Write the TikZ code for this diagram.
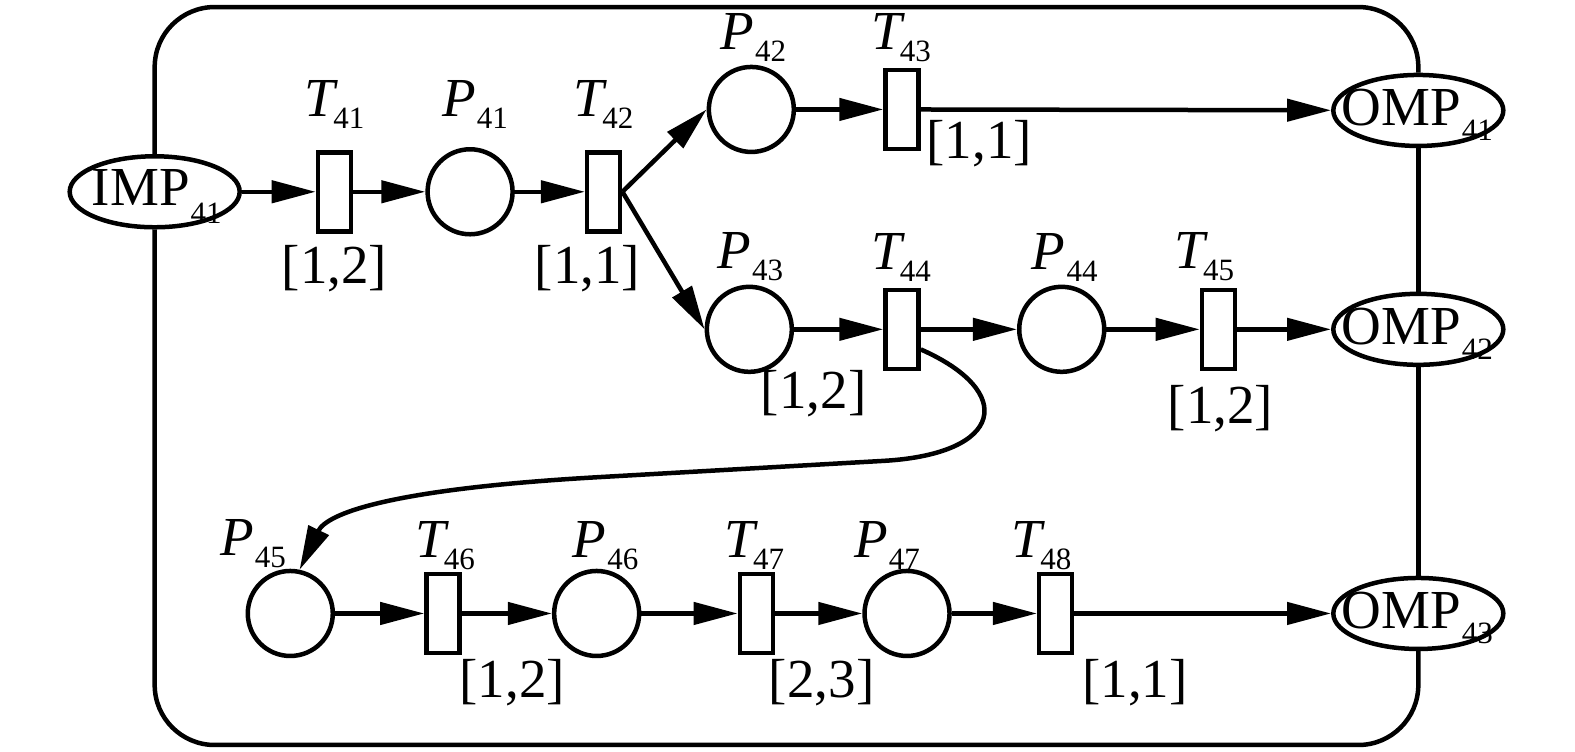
\documentclass[tikz,border=0pt]{standalone}
\usepackage{fontspec}
\setmainfont{Liberation Serif}
\usetikzlibrary{arrows.meta,shapes.geometric,calc}
\newcommand\sublab[4]{#1\kern#4pt\raisebox{-#3pt}{\fontsize{31}{31}\selectfont #2}}
\newcommand\tlab[1]{\sublab{{\itshape T}}{#1}{12}{-2}}
\newcommand\plab[1]{\sublab{{\itshape P}}{#1}{12}{1}}
\begin{document}
\begin{tikzpicture}[x=1.00446pt,y=-1.00401pt,line width=4.5pt,
  place/.style={circle,draw,minimum size=85pt,inner sep=0pt},
  trans/.style={rectangle,draw,minimum width=33pt,minimum height=79pt,inner sep=0pt},
  port/.style={ellipse,draw,minimum width=170pt,minimum height=71pt,inner sep=0pt},
  ptext/.style={inner sep=0pt,font=\fontsize{55}{55}\selectfont},
  lbl/.style={inner sep=0pt,font=\fontsize{55}{55}\selectfont},
  arr/.style={-{Triangle[length=44pt,width=22pt]}}]
\useasboundingbox (0,0) rectangle (1568,748);
% ports
\node[port] (IMP41) at (154,191) {};
\node[port] (OMP41) at (1412,110) {};
\node[port] (OMP42) at (1412,328) {};
\node[port] (OMP43) at (1412,611) {};
\node[ptext] (tIMP41) at (156,196) {\sublab{IMP}{41}{18}{1}};
\node[ptext] (tOMP41) at (1411,114) {\sublab{OMP}{41}{15}{1}};
\node[ptext] (tOMP42) at (1411,332) {\sublab{OMP}{42}{15}{1}};
\node[ptext] (tOMP43) at (1411,615) {\sublab{OMP}{43}{15}{1}};
% places
\node[place] (P41) at (468,191) {};
\node[place] (P42) at (748,109) {};
\node[place] (P43) at (746,328) {};
\node[place] (P44) at (1057,328) {};
\node[place] (P45) at (289,611) {};
\node[place] (P46) at (594,611) {};
\node[place] (P47) at (903,611) {};
% transitions
\node[trans] (T41) at (333,191) {};
\node[trans] (T42) at (601,191) {};
\node[trans] (T43) at (898,109) {};
\node[trans] (T44) at (898,328) {};
\node[trans] (T45) at (1213,328) {};
\node[trans] (T46) at (441,611) {};
\node[trans] (T47) at (753,611) {};
\node[trans] (T48) at (1051,611) {};
% name labels
\node[lbl] (lT41) at (333,104) {\tlab{41}};
\node[lbl] (lP41) at (473,104) {\plab{41}};
\node[lbl] (lT42) at (601,104) {\tlab{42}};
\node[lbl] (lP42) at (750,37) {\plab{42}};
\node[lbl] (lT43) at (897,37) {\tlab{43}};
\node[lbl] (lP43) at (747,256) {\plab{43}};
\node[lbl] (lT44) at (897,256) {\tlab{44}};
\node[lbl] (lP44) at (1060,256) {\plab{44}};
\node[lbl] (lT45) at (1199,256) {\tlab{45}};
\node[lbl] (lP45) at (252,541) {\plab{45}};
\node[lbl] (lT46) at (443,543) {\tlab{46}};
\node[lbl] (lP46) at (603,543) {\plab{46}};
\node[lbl] (lT47) at (751,543) {\tlab{47}};
\node[lbl] (lP47) at (883,543) {\plab{47}};
\node[lbl] (lT48) at (1037,543) {\tlab{48}};
% interval labels
\node[lbl] (i41) at (333,268) {[1,2]};
\node[lbl] (i42) at (585,268) {[1,1]};
\node[lbl] (i43) at (975,143) {[1,1]};
\node[lbl] (i44) at (810,392) {[1,2]};
\node[lbl] (i45) at (1215,407) {[1,2]};
\node[lbl] (i46) at (510,680) {[1,2]};
\node[lbl] (i47) at (818,680) {[2,3]};
\node[lbl] (i48) at (1130,680) {[1,1]};
% frame
\draw[rounded corners=60pt] (IMP41.north) -- (IMP41.north |- 0,7) -- (OMP41.north |- 0,7) -- (OMP41.north);
\draw[rounded corners=60pt] (IMP41.south) -- (IMP41.south |- 0,742) -- (OMP43.south |- 0,742) -- (OMP43.south);
\draw (OMP41) -- (OMP42);
\draw (OMP42) -- (OMP43);
% arcs
\draw[arr] (IMP41) -- (T41);
\draw[arr] (T41) -- (P41);
\draw[arr] (P41) -- (T42);
\draw[arr] (T42.east) -- (P42.west);
\draw[arr] (T42.east) -- (P43.west);
\draw[arr] (P42) -- (T43);
\draw[arr] (T43) -- (OMP41);
\draw[arr] (P43) -- (T44);
\draw[arr] (T44) -- (P44);
\draw[arr] (P44) -- (T45);
\draw[arr] (T45) -- (OMP42);
\draw[arr] ($(T44.east)+(0,20)$) .. controls (1012,390) and (1000,452) .. (880,459) -- (600,475) .. controls (385,487) and (325,512) .. (P45.78);
\draw[arr] (P45) -- (T46);
\draw[arr] (T46) -- (P46);
\draw[arr] (P46) -- (T47);
\draw[arr] (T47) -- (P47);
\draw[arr] (P47) -- (T48);
\draw[arr] (T48) -- (OMP43);
\end{tikzpicture}
\end{document}
